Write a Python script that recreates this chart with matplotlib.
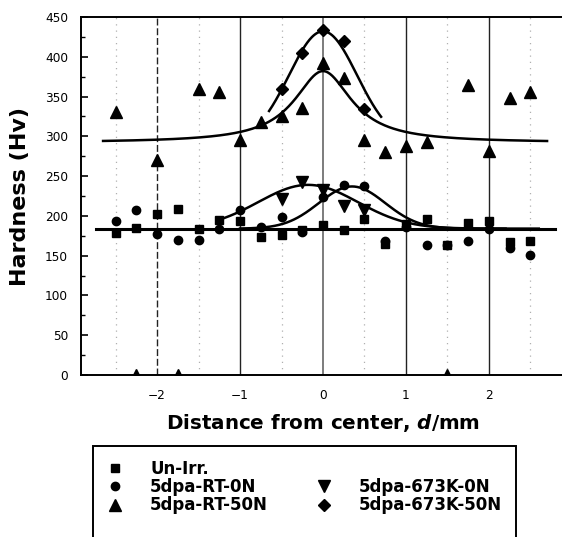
import numpy as np
import matplotlib
matplotlib.use('Agg')
import matplotlib.pyplot as plt
from matplotlib.lines import Line2D

plt.rcParams['font.family'] = ['DejaVu Sans']
plt.rcParams['mathtext.fontset'] = 'custom'
plt.rcParams['mathtext.it'] = 'DejaVu Sans:italic:bold'
plt.rcParams['mathtext.rm'] = 'DejaVu Sans:bold'

# ---------------- data ----------------
distance = [-2.5, -2.25, -2.0, -1.75, -1.5, -1.25, -1.0, -0.75, -0.5, -0.25, 0.0,
            0.25, 0.5, 0.75, 1.0, 1.25, 1.5, 1.75, 2.0, 2.25, 2.5]
un_irr = [178, 185, 203, 209, 183, 195, 194, 173, 176, 182, 189,
          182, 196, 165, 190, 196, 164, 191, 194, 167, 168]
rt_0n = [193, 207, 177, 170, 170, 184, 207, 186, 199, 180, 224,
         239, 237, 169, 186, 164, 163, 168, 184, 160, 151]
rt_50n = [330, 0, 270, 0, 360, 356, 295, 318, 325, 335, 392,
          373, 295, 280, 288, 293, 0, 364, 281, 348, 356]
distance_673k = [-0.5, -0.25, 0.0, 0.25, 0.5]
k673_0n = [221, 242, 232, 213, 208]
k673_50n = [359, 405, 434, 420, 334]

labels = ['Un-Irr.', '5dpa-RT-0N', '5dpa-RT-50N', '5dpa-673K-0N', '5dpa-673K-50N']

# fitted-curve parameters
base_low = 183
fit_rt50 = dict(base=292, amp=90, center=0.0, gamma=0.42, x0=-2.65, x1=2.7)      # Lorentzian
fit_k50 = dict(base=292, amp=140, center=0.0, sigma=0.41, x0=-0.65, x1=0.7)     # Gaussian
fit_k0 = dict(base=184, amp=55, center=-0.18, sigma=0.6, x0=-1.25, x1=2.6)      # Gaussian
fit_rt0 = dict(base=184, amp=53, center=0.35, sigma=0.40, x0=-1.0, x1=2.2)      # Gaussian
base_range = (-2.73, 2.8)


def gauss(p, x):
    return p['base'] + p['amp'] * np.exp(-(x - p['center']) ** 2 / (2 * p['sigma'] ** 2))


def lorentz(p, x):
    return p['base'] + p['amp'] / (1 + ((x - p['center']) / p['gamma']) ** 2)


# ---------------- figure ----------------
W, H = 562, 537
fig = plt.figure(figsize=(W / 100, H / 100), dpi=100)
ax = fig.add_axes([81 / W, (H - 375) / H, 484 / W, 358 / H])
ax.set_xlim(-2.916, 2.916)
ax.set_ylim(0, 450)

# grid lines
for xv in [-1, 1, 2]:
    ax.axvline(xv, color='#222222', lw=1.0, zorder=1)
ax.axvline(0, color='#666666', lw=1.2, zorder=1)
ax.axvline(-2, color='#222222', lw=1.0, ls=(0, (5, 2)), zorder=1)
for xv in [-2.5, -1.5, -0.5, 0.5, 1.5, 2.5]:
    ax.axvline(xv, color='#b0b0b0', lw=0.9, ls=(0, (1, 4)), zorder=1)

# fitted curves
lc = 'black'
lw = 1.8
ax.plot(base_range, [base_low, base_low], color=lc, lw=2.2, zorder=3)
xr = np.linspace(fit_rt50['x0'], fit_rt50['x1'], 400)
ax.plot(xr, lorentz(fit_rt50, xr), color=lc, lw=lw, zorder=3)
xk = np.linspace(fit_k50['x0'], fit_k50['x1'], 200)
ax.plot(xk, gauss(fit_k50, xk), color=lc, lw=lw, zorder=3)
xk0 = np.linspace(fit_k0['x0'], fit_k0['x1'], 300)
ax.plot(xk0, gauss(fit_k0, xk0), color=lc, lw=lw, zorder=3)
ax.vlines(fit_k0['x0'], base_low, gauss(fit_k0, np.array(fit_k0['x0'])), color=lc, lw=lw, zorder=3)
xr0 = np.linspace(fit_rt0['x0'], fit_rt0['x1'], 300)
ax.plot(xr0, gauss(fit_rt0, xr0), color=lc, lw=lw, zorder=3)

# data markers
mk = dict(color='black', ls='none', zorder=4)
ax.plot(distance, un_irr, marker='s', ms=6, label=labels[0], **mk)
ax.plot(distance, rt_0n, marker='o', ms=6, label=labels[1], **mk)
ax.plot(distance, rt_50n, marker='^', ms=8, label=labels[2], **mk)
ax.plot(distance_673k, k673_0n, marker='v', ms=8, label=labels[3], **mk)
ax.plot(distance_673k, k673_50n, marker='D', ms=6.5, label=labels[4], **mk)

# axes styling
ax.spines['right'].set_visible(False)
for s in ['left', 'top', 'bottom']:
    ax.spines[s].set_linewidth(1.4)
ax.set_yticks(np.arange(0, 451, 50))
ax.set_yticks(np.arange(0, 451, 25), minor=True)
ax.set_xticks([-2, -1, 0, 1, 2])
ax.tick_params(axis='y', which='major', direction='in', length=5, width=1.2, labelsize=8.7, pad=9.4)
ax.tick_params(axis='y', which='minor', direction='in', length=3, width=1.0)
ax.tick_params(axis='x', which='both', length=0, labelsize=8.7, pad=10)

fig.text(20 / W, 1 - 197 / H, 'Hardness (Hv)', rotation=90, ha='center', va='center',
         fontsize=16, fontweight='bold')
fig.text(323 / W, 1 - 423 / H, 'Distance from center, $d$/mm', ha='center', va='center',
         fontsize=14.3, fontweight='bold')

# legend (two columns; blank entries keep the layout of the original box)
blank = Line2D([], [], ls='none')
hs = [Line2D([], [], marker='s', ms=6, color='black', ls='none'),
      Line2D([], [], marker='o', ms=6, color='black', ls='none'),
      Line2D([], [], marker='^', ms=8, color='black', ls='none'),
      blank,
      blank,
      Line2D([], [], marker='v', ms=8, color='black', ls='none'),
      Line2D([], [], marker='D', ms=6.5, color='black', ls='none'),
      blank]
ls_ = [labels[0], labels[1], labels[2], ' ', ' ', labels[3], labels[4], ' ']
leg = fig.legend(hs, ls_, ncol=2, loc='upper left', bbox_to_anchor=(93 / W, 1 - 446 / H),
                 frameon=True, fancybox=False, edgecolor='black', framealpha=1,
                 prop=dict(family='DejaVu Sans', weight='bold', size=12),
                 handlelength=1.0, handletextpad=1.6, columnspacing=2.85,
                 labelspacing=0.02, borderpad=0.82, borderaxespad=0)
leg.get_frame().set_linewidth(1.4)

fig.savefig('out.png', dpi=100)
